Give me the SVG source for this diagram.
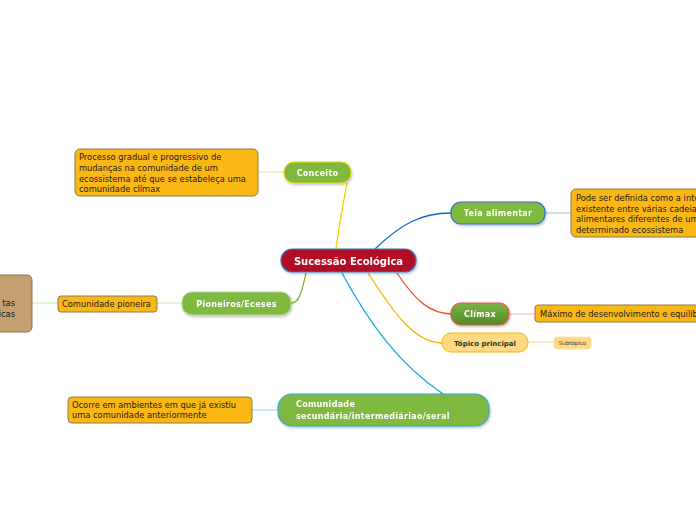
<svg xmlns="http://www.w3.org/2000/svg" width="696" height="520" viewBox="0 0 696 520">
<defs>
<linearGradient id="gClimax" x1="0" y1="0" x2="0" y2="1"><stop offset="0" stop-color="#7db443"/><stop offset="1" stop-color="#4e8a2a"/></linearGradient>
<filter id="sh" x="-10%" y="-20%" width="120%" height="150%"><feDropShadow dx="1" dy="1.5" stdDeviation="1" flood-color="#000" flood-opacity="0.25"/></filter>
</defs>
<style>
text{font-family:"DejaVu Sans",Verdana,sans-serif}
.note{fill:#fbb714;stroke:#8c7a4c;stroke-width:1}
.nt{font-size:8.3px;fill:#1a1a1a}
.green{fill:#80b940}
.gt{font-size:8px;font-weight:bold;fill:#fff;letter-spacing:0.3px}
.link{fill:none;stroke-width:1.3}
.sub{fill:none;stroke-width:1.2}
</style>
<rect width="696" height="520" fill="#fff"/>
<g id="connectors">
<path class="link" stroke="#e8d400" d="M336,249 C339,225 343,205 347,183"/>
<path class="link" stroke="#1465d2" d="M375,249 C400,225 420,213 451,213"/>
<path class="link" stroke="#f05428" d="M397,273 C415,300 430,314 452,314"/>
<path class="link" stroke="#f8b400" d="M368,273 C395,315 415,343 443,343"/>
<path class="link" stroke="#12a8e8" d="M342,273 C370,325 400,365 443,394"/>
<path class="link" stroke="#80b830" d="M306,273 C302,290 300,303 291,303"/>
<line class="sub" stroke="#f0e68a" x1="258" y1="172" x2="284" y2="172"/>
<line class="sub" stroke="#a8cdea" x1="545" y1="213" x2="571" y2="213"/>
<line class="sub" stroke="#f7c4c0" x1="509" y1="314" x2="535" y2="314"/>
<line class="sub" stroke="#fde3a8" x1="528" y1="342" x2="554" y2="342"/>
<line class="sub" stroke="#a8d8ee" x1="252" y1="410" x2="278" y2="410"/>
<line class="sub" stroke="#d8e8c0" x1="157" y1="303" x2="182" y2="303"/>
<line class="sub" stroke="#d8e8c0" x1="32" y1="303" x2="58" y2="303"/>
</g>
<g id="central" filter="url(#sh)">
<rect x="281" y="249" width="135" height="23" rx="11" fill="#b00a28" stroke="#3a7cc4" stroke-width="1.2"/>
<text x="348.5" y="264.5" text-anchor="middle" font-size="10px" font-weight="bold" fill="#fff">Sucessão Ecológica</text>
</g>
<g id="conceito" filter="url(#sh)">
<rect class="green" x="284" y="162" width="67" height="21" rx="10" stroke="#e6d800" stroke-width="1"/>
<text class="gt" x="317.5" y="176" text-anchor="middle">Conceito</text>
</g>
<g id="conceito-note">
<rect class="note" x="75" y="149" width="183" height="47" rx="5"/>
<text class="nt" x="79" y="160">Processo gradual e progressivo de</text>
<text class="nt" x="79" y="171">mudanças na comunidade de um</text>
<text class="nt" x="79" y="182">ecossistema até que se estabeleça uma</text>
<text class="nt" x="79" y="192">comunidade clímax</text>
</g>
<g id="teia" filter="url(#sh)">
<rect class="green" x="451" y="202" width="94" height="22" rx="10" stroke="#2e6fc8" stroke-width="1.2"/>
<text class="gt" x="498" y="216" text-anchor="middle">Teia alimentar</text>
</g>
<g id="teia-note">
<rect class="note" x="571" y="189" width="140" height="48" rx="5"/>
<text class="nt" x="576" y="201">Pode ser definida como a interação</text>
<text class="nt" x="576" y="212">existente entre várias cadeias</text>
<text class="nt" x="576" y="222">alimentares diferentes de um</text>
<text class="nt" x="576" y="233">determinado ecossistema</text>
</g>
<g id="climax" filter="url(#sh)">
<rect x="451" y="303" width="58" height="22" rx="10" fill="url(#gClimax)" stroke="#e85a38" stroke-width="1.2"/>
<text class="gt" x="480" y="317" text-anchor="middle">Clímax</text>
</g>
<g id="climax-note">
<rect class="note" x="535" y="305" width="175" height="17" rx="3"/>
<text class="nt" x="540" y="317">Máximo de desenvolvimento e equilíbrio</text>
</g>
<g id="topico">
<rect x="442" y="333" width="86" height="19" rx="9" fill="#ffd983" stroke="#f5b800" stroke-width="1"/>
<text x="485" y="345.5" text-anchor="middle" font-size="7px" font-weight="bold" fill="#1e3a22">Tópico principal</text>
</g>
<g id="subtopico">
<rect x="554" y="337" width="37" height="12" rx="3" fill="#ffd983" stroke="#fbe2a4" stroke-width="0.8"/>
<text x="572.5" y="345" text-anchor="middle" font-size="5.5px" fill="#3a3a3a">Subtópico</text>
</g>
<g id="secundaria" filter="url(#sh)">
<rect class="green" x="278" y="394" width="211" height="32" rx="14" stroke="#2aa8e0" stroke-width="1.2"/>
<text class="gt" x="296" y="407">Comunidade</text>
<text class="gt" x="296" y="419">secundária/intermediáriao/seral</text>
</g>
<g id="secundaria-note">
<rect class="note" x="68" y="397" width="184" height="26" rx="4"/>
<text class="nt" x="72" y="408">Ocorre em ambientes em que já existiu</text>
<text class="nt" x="72" y="418">uma comunidade anteriormente</text>
</g>
<g id="pioneiros" filter="url(#sh)">
<rect class="green" x="182" y="292" width="109" height="23" rx="10" stroke="#b4d890" stroke-width="1"/>
<text class="gt" x="236.5" y="306.5" text-anchor="middle">Pioneiros/Eceses</text>
</g>
<g id="pioneira-note">
<rect class="note" x="58" y="296" width="99" height="16" rx="3"/>
<text class="nt" x="62" y="307">Comunidade pioneira</text>
</g>
<g id="plantas">
<rect x="-20" y="275" width="52" height="57" rx="5" fill="#c4a070" stroke="#8a7050" stroke-width="1"/>
<text class="nt" x="15" y="306" text-anchor="end">tas</text>
<text class="nt" x="15" y="317" text-anchor="end">icas</text>
</g>
</svg>
